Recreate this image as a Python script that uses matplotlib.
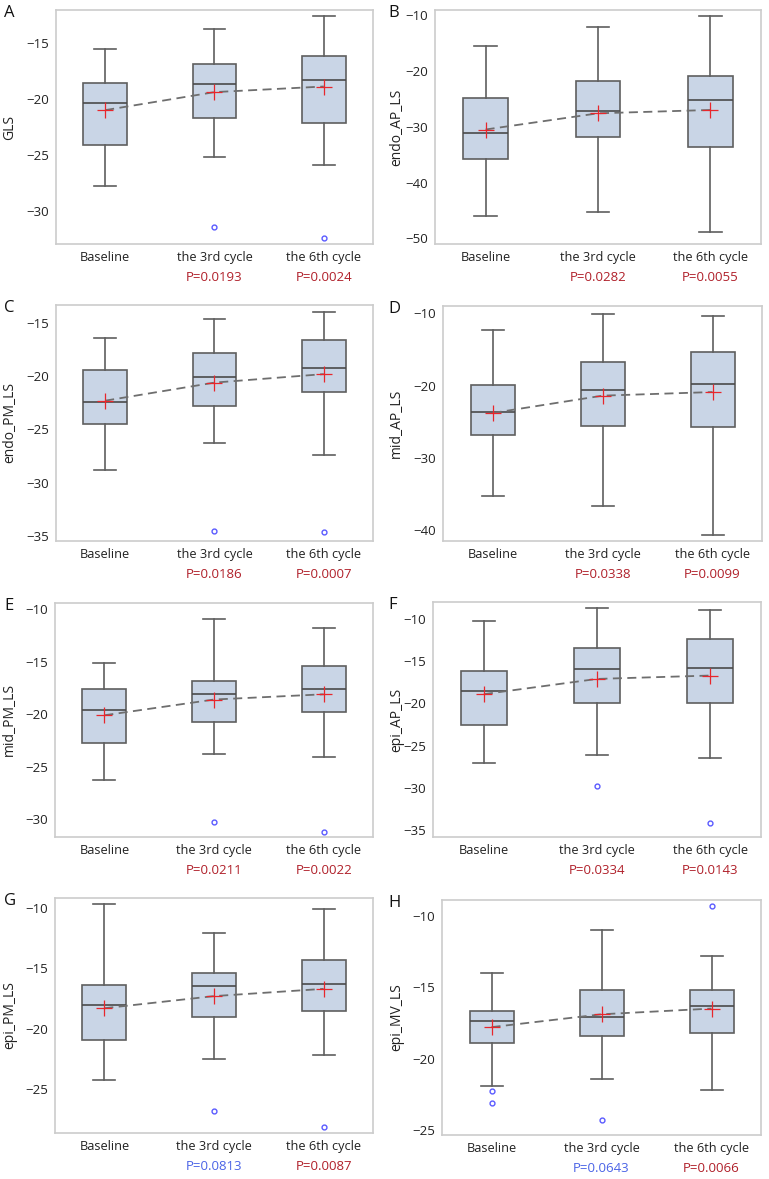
import matplotlib
matplotlib.use("Agg")
import matplotlib.pyplot as plt
import matplotlib.transforms as mtransforms

plt.rcParams['font.family'] = ['Open Sans', 'DejaVu Sans']

groups = ["Baseline", "the 3rd cycle", "the 6th cycle"]
letters = ["A", "B", "C", "D", "E", "F", "G", "H"]
ylabels = ["GLS", "endo_AP_LS", "endo_PM_LS", "mid_AP_LS",
           "mid_PM_LS", "epi_AP_LS", "epi_PM_LS", "epi_MV_LS"]

# per panel: [Baseline, 3rd cycle, 6th cycle]
whis_hi = [[-15.6, -13.8, -12.6], [-15.6, -12.1, -10.2], [-16.4, -14.6, -14.0], [-12.3, -10.1, -10.4],
           [-15.1, -10.9, -11.8], [-10.2, -8.7, -8.9], [-9.7, -12.1, -10.1], [-14.0, -11.0, -12.8]]
q3 = [[-18.6, -16.9, -16.2], [-24.9, -21.9, -20.9], [-19.4, -17.8, -16.6], [-19.9, -16.7, -15.4],
      [-17.6, -16.8, -15.4], [-16.2, -13.5, -12.4], [-16.4, -15.4, -14.3], [-16.7, -15.2, -15.2]]
median = [[-20.4, -18.7, -18.3], [-31.2, -27.1, -25.3], [-22.4, -20.1, -19.2], [-23.7, -20.6, -19.8],
          [-19.6, -18.1, -17.6], [-18.5, -15.9, -15.8], [-18.0, -16.5, -16.3], [-17.4, -17.1, -16.3]]
q1 = [[-24.1, -21.7, -22.1], [-35.7, -31.8, -33.6], [-24.5, -22.8, -21.5], [-26.9, -25.6, -25.7],
      [-22.7, -20.7, -19.8], [-22.6, -20.0, -19.9], [-20.9, -19.0, -18.5], [-18.9, -18.4, -18.2]]
whis_lo = [[-27.7, -25.2, -25.9], [-45.9, -45.3, -48.8], [-28.8, -26.3, -27.4], [-35.3, -36.6, -40.7],
           [-26.3, -23.8, -24.1], [-27.0, -26.1, -26.5], [-24.2, -22.5, -22.2], [-21.9, -21.4, -22.2]]
means = [[-21.0, -19.4, -18.9], [-30.5, -27.6, -27.0], [-22.3, -20.6, -19.8], [-23.8, -21.4, -20.9],
         [-20.1, -18.6, -18.1], [-18.9, -17.1, -16.7], [-18.3, -17.3, -16.7], [-17.8, -16.9, -16.5]]
outliers = [[[], [-31.4], [-32.4]], [[], [], []], [[], [-34.6], [-34.7]], [[], [], []],
            [[], [-30.3], [-31.2]], [[], [-29.8], [-34.2]], [[], [-26.8], [-28.1]],
            [[-22.3, -23.1], [-24.3], [-9.3]]]
p_values = [["0.0193", "0.0024"], ["0.0282", "0.0055"], ["0.0186", "0.0007"], ["0.0338", "0.0099"],
            ["0.0211", "0.0022"], ["0.0334", "0.0143"], ["0.0813", "0.0087"], ["0.0643", "0.0066"]]
yticks = [[-30, -25, -20, -15], [-50, -40, -30, -20, -10], [-35, -30, -25, -20, -15], [-40, -30, -20, -10],
          [-30, -25, -20, -15, -10], [-35, -30, -25, -20, -15, -10], [-25, -20, -15, -10], [-25, -20, -15, -10]]
ylims = [(-32.9, -12.1), (-51.0, -9.1), (-35.5, -13.3), (-41.5, -9.0),
         (-31.7, -9.4), (-35.8, -8.0), (-28.6, -9.2), (-25.35, -8.9)]

W, H = 769, 1179
fig = plt.figure(figsize=(W / 100, H / 100), dpi=100)

# axes boxes in pixels: left, top, right, bottom
boxes = [(56, 10, 373, 244), (435, 10, 761, 244),
         (56, 305, 373, 541), (443, 306, 762, 541),
         (55, 603, 373, 837), (433, 602, 761, 837),
         (55, 898, 373, 1133), (442, 900, 761, 1135)]

BOX_FILL = "#c9d5e6"
EDGE = "#5f5f5f"
RED = "#b0202a"
BLUE = "#4a63e6"

for i in range(8):
    l, t, r, b = boxes[i]
    ax = fig.add_axes([l / W, 1 - b / H, (r - l) / W, (b - t) / H])
    stats = []
    for j in range(3):
        stats.append(dict(med=median[i][j], q1=q1[i][j], q3=q3[i][j],
                          whislo=whis_lo[i][j], whishi=whis_hi[i][j],
                          mean=means[i][j], fliers=outliers[i][j]))
    ax.bxp(stats, positions=[1, 2, 3], widths=0.4, patch_artist=True,
           showmeans=True, showfliers=True,
           boxprops=dict(facecolor=BOX_FILL, edgecolor=EDGE, linewidth=1.2),
           whiskerprops=dict(color=EDGE, linewidth=1.2),
           capprops=dict(color=EDGE, linewidth=1.2),
           medianprops=dict(color="#4a4a4a", linewidth=1.2),
           meanprops=dict(marker="+", markeredgecolor="#e8262c", markersize=11,
                          markeredgewidth=0.9, zorder=5),
           flierprops=dict(marker="o", markerfacecolor="none", markeredgecolor="#5a5aff",
                           markersize=3.5, markeredgewidth=1.0))
    ax.plot([1, 2, 3], means[i], linestyle=(0, (5, 3)), color="#6e6e6e", linewidth=1.3, zorder=4)

    ax.set_xlim(0.55, 3.45)
    ax.set_ylim(*ylims[i])
    ax.set_yticks(yticks[i])
    ax.set_xticks([1, 2, 3])
    ax.set_xticklabels(groups)
    ax.tick_params(length=0, labelsize=9.5, colors="#222222", pad=5)
    ax.tick_params(axis="x", labelsize=9.2)
    for s in ax.spines.values():
        s.set_color("#cccccc")
        s.set_linewidth(1.2)

    # y label: right edge of the rotated text sits at this x
    lx = 17 / W if l < 200 else 404 / W
    ax.set_ylabel(ylabels[i], fontsize=10, color="#222222")
    ax.yaxis.set_label_coords(lx, 0.5, transform=mtransforms.blended_transform_factory(fig.transFigure, ax.transAxes))

    for k, p in enumerate(p_values[i]):
        col = BLUE if float(p) > 0.05 else RED
        ax.annotate("P=" + p, xy=(k + 2, 0), xycoords=("data", "axes fraction"),
                    xytext=(0, -24), textcoords="offset points", ha="center", va="center",
                    fontsize=9.5, color=col)

    tx = 4 / W if l < 200 else (385 + 3) / W
    fig.text(tx, 1 - (t + 3) / H, letters[i], fontsize=12, ha="left", va="center", color="#111111")

fig.savefig("out.png", dpi=100)
